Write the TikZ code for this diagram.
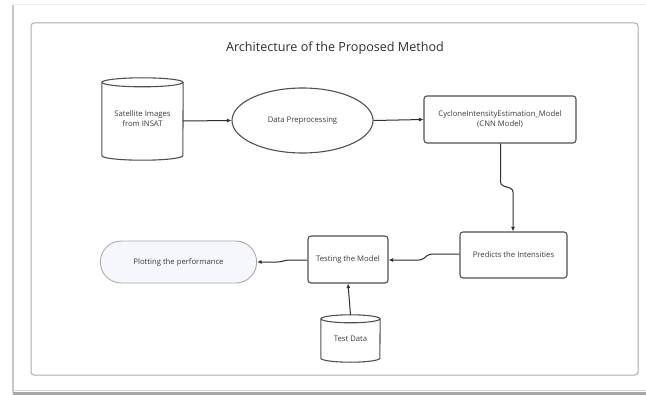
\documentclass[tikz,border=0pt]{standalone}
\usepackage{fontspec}
\setmainfont{Open Sans}
\usetikzlibrary{shapes.geometric,shapes.misc,arrows.meta}
\definecolor{edgec}{HTML}{505050}
\definecolor{txtc}{HTML}{3C3C3C}
\definecolor{linec}{HTML}{2E2E2E}
\definecolor{plotfill}{HTML}{F6F7FC}
\tikzset{
  boxnode/.style={draw=edgec,line width=1.1pt,rounded corners=3pt,text=txtc,font=\fontsize{7.7}{10}\selectfont,align=center,inner sep=1pt},
  ellnode/.style={ellipse,draw=edgec,line width=1.1pt,text=txtc,font=\fontsize{7.7}{10}\selectfont,align=center},
  stadium/.style={rounded rectangle,draw=gray!65,line width=0.9pt,fill=plotfill,text=txtc,font=\fontsize{7.7}{10}\selectfont},
  cylbody/.style={draw=none,text=txtc,font=\fontsize{7.7}{10}\selectfont,align=center,inner sep=0pt},
  cylline/.style={draw=edgec,line width=1.1pt},
  conn/.style={draw=linec,line width=1pt,rounded corners=3pt,-{Latex[length=4.5pt,width=4pt]}}
}
\begin{document}
\begin{tikzpicture}[x=1pt,y=-1pt]
\useasboundingbox[fill=white] (0,0) rectangle (646,396);
% outer screenshot frame
\draw[gray!15,line width=1pt] (13,5) -- (646,5);
\draw[gray!45,line width=1.8pt] (13,5) -- (13,393);
\draw[gray!70,line width=2.5pt] (13,393.5) -- (646,393.5);
\draw[gray!30,line width=1pt] (13,390.5) -- (646,390.5);
% inner frame
\draw[gray!65,line width=1pt,rounded corners=3pt] (31,23) rectangle (638,375);
% title
\node[text=black!82,font=\fontsize{12.6}{15}\selectfont] (title) at (335,48) {Architecture of the Proposed Method};
% nodes
\node[cylbody,minimum width=81,minimum height=82] (sat) at (142.5,119) {Satellite Images\\from INSAT};
\draw[cylline,fill=white] ([yshift=-4.5pt]sat.north) ellipse [x radius=40.5pt,y radius=4.5pt];
\draw[cylline] ([yshift=-4.5pt]sat.north west) -- ([yshift=4.5pt]sat.south west) arc[start angle=180,end angle=360,x radius=40.5pt,y radius=4.5pt] -- ([yshift=-4.5pt]sat.north east);
\node[ellnode,minimum width=141,minimum height=65] (pre) at (302.5,120.5) {Data Preprocessing};
\node[boxnode,minimum width=152,minimum height=47] (cnn) at (500,119.5) {CycloneIntensityEstimation\_Model\\(CNN Model)};
\node[boxnode,minimum width=107,minimum height=46] (pred) at (513.5,255) {Predicts the Intensities};
\node[boxnode,minimum width=80,minimum height=47] (test) at (348,259.5) {Testing the Model};
\node[stadium,minimum width=163,minimum height=42] (plot) at (178.5,262) {Plotting the performance};
\node[cylbody,minimum width=59,minimum height=47] (td) at (350.5,338.5) {Test Data};
\draw[cylline,fill=white] ([yshift=-4pt]td.north) ellipse [x radius=29.5pt,y radius=4pt];
\draw[cylline] ([yshift=-4pt]td.north west) -- ([yshift=4pt]td.south west) arc[start angle=180,end angle=360,x radius=29.5pt,y radius=4pt] -- ([yshift=-4pt]td.north east);
% connectors
\draw[conn] (sat.east |- 0,121) -- (pre.west);
\draw[conn] (pre.east) -- (cnn.west);
\coordinate (j1) at (500.5,185);
\coordinate (j2) at (513,189);
\draw[conn] (cnn.south -| j1) -- (j1) -- (j2) -- (pred.north -| j2);
\coordinate (j3) at (429,254);
\coordinate (j4) at (422,260);
\draw[conn] (pred.west |- j3) -- (j3) -- (j4) -- (test.east |- j4);
\coordinate (j5) at (287,260);
\coordinate (j6) at (280,262);
\draw[conn] (test.west |- j5) -- (j5) -- (j6) -- (plot.east);
\draw[conn] (td.north) -- (test.south);
\end{tikzpicture}
\end{document}
